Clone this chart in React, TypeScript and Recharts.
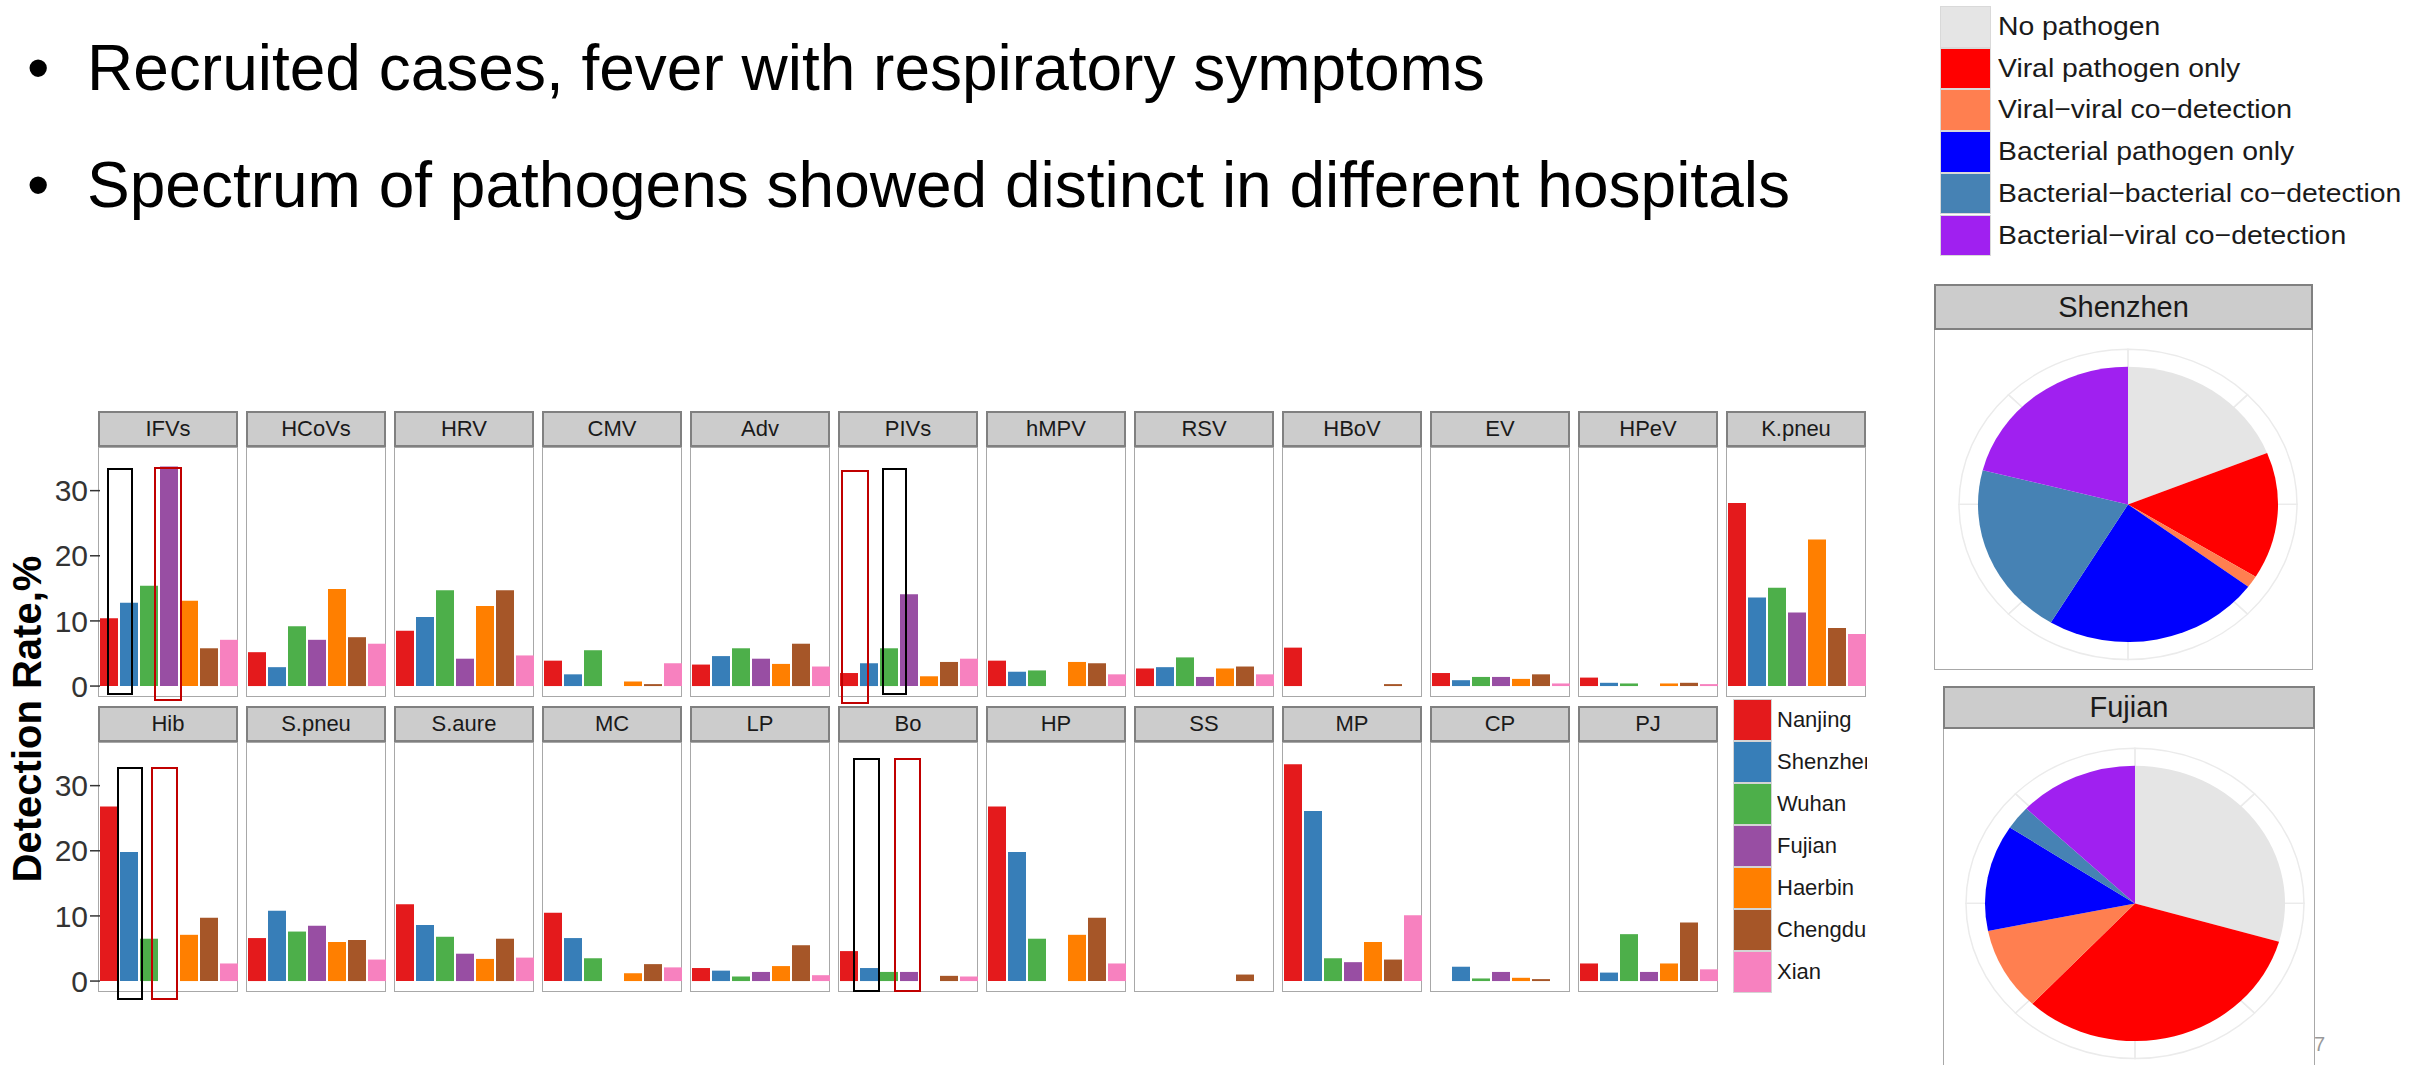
import React from 'react';
import { BarChart, Bar, XAxis, YAxis, PieChart, Pie, Cell } from 'recharts';

const cities = ['Nanjing', 'Shenzhen', 'Wuhan', 'Fujian', 'Haerbin', 'Chengdu', 'Xian'];
const cityColors = ['#E41A1C', '#377EB8', '#4DAF4A', '#984EA3', '#FF7F00', '#A65628', '#F781BF'];

// detection rate (%) by city, same order as `cities`
const IFVs = [10.4, 12.8, 15.4, 33.7, 13.1, 5.8, 7.1];
const HCoVs = [5.2, 2.9, 9.2, 7.1, 14.9, 7.5, 6.5];
const HRV = [8.5, 10.6, 14.7, 4.2, 12.3, 14.7, 4.7];
const CMV = [3.9, 1.8, 5.5, 0, 0.7, 0.3, 3.5];
const Adv = [3.3, 4.6, 5.8, 4.2, 3.4, 6.5, 3.0];
const PIVs = [2.0, 3.5, 5.8, 14.1, 1.5, 3.7, 4.2];
const hMPV = [3.9, 2.2, 2.4, 0, 3.7, 3.5, 1.8];
const RSV = [2.7, 2.9, 4.4, 1.4, 2.7, 3.0, 1.8];
const HBoV = [5.9, 0, 0, 0, 0, 0.3, 0];
const EV = [2.0, 0.9, 1.4, 1.4, 1.1, 1.8, 0.4];
const HPeV = [1.3, 0.5, 0.4, 0, 0.4, 0.5, 0.3];
const KPneu = [28.1, 13.6, 15.1, 11.3, 22.5, 8.9, 8.0];

const Hib = [26.8, 19.8, 6.5, 0, 7.1, 9.7, 2.7];
const SPneu = [6.6, 10.8, 7.6, 8.5, 6.0, 6.3, 3.3];
const SAure = [11.8, 8.6, 6.8, 4.2, 3.4, 6.5, 3.6];
const MC = [10.5, 6.6, 3.5, 0, 1.2, 2.6, 2.1];
const LP = [2.0, 1.6, 0.7, 1.4, 2.3, 5.5, 0.9];
const Bo = [4.6, 2.0, 1.4, 1.4, 0, 0.8, 0.7];
const HP = [26.8, 19.8, 6.5, 0, 7.1, 9.7, 2.7];
const SS = [0, 0, 0, 0, 0, 1.0, 0];
const MP = [33.3, 26.1, 3.5, 2.9, 6.0, 3.3, 10.1];
const CP = [0, 2.2, 0.4, 1.4, 0.5, 0.3, 0];
const PJ = [2.7, 1.3, 7.2, 1.4, 2.7, 9.0, 1.8];

const row1Names = ['IFVs', 'HCoVs', 'HRV', 'CMV', 'Adv', 'PIVs', 'hMPV', 'RSV', 'HBoV', 'EV', 'HPeV', 'K.pneu'];
const row1Rates = [IFVs, HCoVs, HRV, CMV, Adv, PIVs, hMPV, RSV, HBoV, EV, HPeV, KPneu];
const row2Names = ['Hib', 'S.pneu', 'S.aure', 'MC', 'LP', 'Bo', 'HP', 'SS', 'MP', 'CP', 'PJ'];
const row2Rates = [Hib, SPneu, SAure, MC, LP, Bo, HP, SS, MP, CP, PJ];

const yTicks = [0, 10, 20, 30];

const pieGroups = [
  'No pathogen',
  'Viral pathogen only',
  'Viral\u2212viral co\u2212detection',
  'Bacterial pathogen only',
  'Bacterial\u2212bacterial co\u2212detection',
  'Bacterial\u2212viral co\u2212detection',
];
const pieColors = ['#E5E5E5', '#FF0000', '#FF7F50', '#0000FF', '#4682B4', '#A020F0'];
const shenzhenShare = [18.9, 14.9, 1.4, 23.4, 20.4, 21.0];
const fujianShare = [29.5, 32.5, 9.8, 12.5, 2.8, 12.9];
const gridSpokes = [1, 1, 1, 1, 1, 1, 1, 1];

const bullets = ['Recruited cases, fever with respiratory symptoms', 'Spectrum of pathogens showed distinct in different hospitals'];

const FONT = '"Liberation Sans", Arial, Helvetica, sans-serif';

const PANEL_X0 = 98;
const PANEL_STEP = 148;
const PANEL_W = 140;
const STRIP_H = 36;
const PANEL_H = 250;
const AXIS_W = 54;
const PAD = 16; // room above/below the plot so tick labels are not clipped

// hand-drawn highlight boxes on the slide
const highlights = [
  { x: 107, y: 468, w: 26, h: 227, color: '#000' },
  { x: 154, y: 467, w: 28, h: 234, color: '#C00000' },
  { x: 841, y: 470, w: 28, h: 234, color: '#C00000' },
  { x: 882, y: 468, w: 25, h: 227, color: '#000' },
  { x: 117, y: 767, w: 26, h: 233, color: '#000' },
  { x: 151, y: 767, w: 27, h: 233, color: '#C00000' },
  { x: 853, y: 758, w: 27, h: 234, color: '#000' },
  { x: 894, y: 758, w: 27, h: 234, color: '#C00000' },
];

function Facet({ name, rates, col, top }: { name: string; rates: number[]; col: number; top: number }) {
  const left = PANEL_X0 + col * PANEL_STEP;
  const row: Record<string, number | string> = { name };
  cities.forEach((c, i) => (row[c] = rates[i]));
  const withAxis = col === 0;
  const chartW = withAxis ? PANEL_W + AXIS_W - 2 : PANEL_W;
  return (
    <>
      <div
        style={{
          position: 'absolute', left, top, width: PANEL_W, height: STRIP_H, boxSizing: 'border-box',
          background: '#CCCCCC', border: '2px solid #808080', textAlign: 'center', lineHeight: '31px',
          fontSize: 22, color: '#1A1A1A',
        }}
      >
        {name}
      </div>
      <div
        style={{
          position: 'absolute', left, top: top + STRIP_H, width: PANEL_W, height: PANEL_H,
          boxSizing: 'border-box', border: '1.5px solid #A8A8A8', background: '#fff',
        }}
      />
      <div style={{ position: 'absolute', left: withAxis ? left - AXIS_W + 2 : left, top: top + STRIP_H - PAD }}>
        <BarChart
          width={chartW}
          height={PANEL_H + 2 * PAD}
          data={[row]}
          margin={{ top: PAD, right: 2, bottom: PAD, left: withAxis ? 0 : 2 }}
          barCategoryGap={0}
          barGap={2}
        >
          <XAxis dataKey="name" hide />
          <YAxis
            hide={!withAxis}
            width={AXIS_W}
            type="number"
            domain={[-1.68, 36.7]}
            allowDataOverflow
            ticks={yTicks}
            interval={0}
            axisLine={false}
            tickSize={10}
            tickLine={{ stroke: '#333', strokeWidth: 1.5 }}
            tick={{ fontSize: 30, fill: '#333', fontFamily: FONT }}
          />
          {cities.map((c, i) => (
            <Bar key={c} dataKey={c} fill={cityColors[i]} isAnimationActive={false} />
          ))}
        </BarChart>
      </div>
    </>
  );
}

function PiePanel({ title, shares, left, top, width, stripH, cx, cy }: {
  title: string; shares: number[]; left: number; top: number; width: number; stripH: number; cx: number; cy: number;
}) {
  const data = pieGroups.map((g, i) => ({ group: g, share: shares[i] }));
  const spokes = gridSpokes.map((v, i) => ({ k: i, v }));
  const squash = 0.918;
  return (
    <>
      <div
        style={{
          position: 'absolute', left, top, width, height: stripH, boxSizing: 'border-box',
          background: '#CCCCCC', border: '2px solid #808080', textAlign: 'center',
          lineHeight: `${stripH - 4}px`, fontSize: 29, color: '#1A1A1A',
        }}
      >
        {title}
      </div>
      <div
        style={{
          position: 'absolute', left, top: top + stripH, width, height: 340,
          boxSizing: 'border-box', border: '1.5px solid #A8A8A8', borderTop: 'none', background: '#fff',
        }}
      />
      <div
        style={{
          position: 'absolute', left, top: top + stripH, width, height: 370,
          transform: `scaleY(${squash})`, transformOrigin: 'top left',
        }}
      >
        <PieChart width={width} height={370}>
          <Pie
            data={spokes}
            dataKey="v"
            cx={cx}
            cy={cy}
            outerRadius={169}
            innerRadius={0}
            startAngle={90}
            endAngle={-270}
            fill="none"
            stroke="#EBEBEB"
            strokeWidth={1.5}
            isAnimationActive={false}
          />
          <Pie
            data={data}
            dataKey="share"
            nameKey="group"
            cx={cx}
            cy={cy}
            outerRadius={150}
            innerRadius={0}
            startAngle={90}
            endAngle={-270}
            stroke="none"
            isAnimationActive={false}
          >
            {data.map((d, i) => (
              <Cell key={d.group} fill={pieColors[i]} />
            ))}
          </Pie>
        </PieChart>
      </div>
    </>
  );
}

export default function App() {
  return (
    <div
      style={{
        position: 'absolute', left: 0, top: 0, width: 2432, height: 1065, overflow: 'hidden',
        background: '#fff', fontFamily: FONT,
      }}
    >
      {/* slide bullets */}
      {bullets.map((t, i) => (
        <div key={t} style={{ position: 'absolute', left: 0, top: 37 + i * 117, fontSize: 64, lineHeight: '63px', color: '#000', whiteSpace: 'nowrap' }}>
          <span style={{ position: 'absolute', left: 27 }}>{'\u2022'}</span>
          <span style={{ position: 'absolute', left: 87 }}>{t}</span>
        </div>
      ))}

      {/* y-axis title */}
      <div style={{ position: 'absolute', left: 27, top: 719, width: 0, height: 0 }}>
        <div
          style={{
            position: 'absolute', transform: 'translate(-50%, -50%) rotate(-90deg)', fontWeight: 'bold',
            fontSize: 40, whiteSpace: 'nowrap', color: '#000',
          }}
        >
          Detection Rate,%
        </div>
      </div>

      {row1Names.map((n, i) => (
        <Facet key={n} name={n} rates={row1Rates[i]} col={i} top={411} />
      ))}
      {row2Names.map((n, i) => (
        <Facet key={n} name={n} rates={row2Rates[i]} col={i} top={706} />
      ))}

      {highlights.map((h, i) => (
        <div
          key={i}
          style={{
            position: 'absolute', left: h.x, top: h.y, width: h.w, height: h.h, boxSizing: 'border-box',
            border: `2.5px solid ${h.color}`,
          }}
        />
      ))}

      {/* city legend */}
      {cities.map((c, i) => (
        <div key={c} style={{ position: 'absolute', left: 1733, top: 699 + i * 42, height: 42 }}>
          <div
            style={{
              position: 'absolute', left: 0, top: 0, width: 39, height: 42, boxSizing: 'border-box',
              background: cityColors[i], border: '1px solid #D4D4D4',
            }}
          />
          <div
            style={{
              position: 'absolute', left: 44, top: 0, width: 90, height: 42, overflow: 'hidden',
              lineHeight: '42px', fontSize: 22, color: '#1A1A1A', whiteSpace: 'nowrap',
            }}
          >
            {c}
          </div>
        </div>
      ))}

      {/* pie legend */}
      {pieGroups.map((g, i) => (
        <div key={g} style={{ position: 'absolute', left: 1940, top: 6 + i * 41.7, height: 41.7 }}>
          <div
            style={{
              position: 'absolute', left: 0, top: 0, width: 51, height: 41.7, boxSizing: 'border-box',
              background: pieColors[i], border: '1px solid #D9D9D9',
            }}
          />
          <div
            style={{
              position: 'absolute', left: 58, top: 0, lineHeight: '41.7px', fontSize: 26, color: '#1A1A1A',
              whiteSpace: 'nowrap', transform: 'scaleX(1.09)', transformOrigin: 'left center',
            }}
          >
            {g}
          </div>
        </div>
      ))}

      <div style={{ position: 'absolute', left: 2314, top: 1033, fontSize: 20, color: '#999' }}>7</div>

      <PiePanel title="Shenzhen" shares={shenzhenShare} left={1934} top={284} width={379} stripH={46} cx={189} cy={185} />
      <PiePanel title="Fujian" shares={fujianShare} left={1943} top={686} width={372} stripH={43} cx={187} cy={185} />
    </div>
  );
}
